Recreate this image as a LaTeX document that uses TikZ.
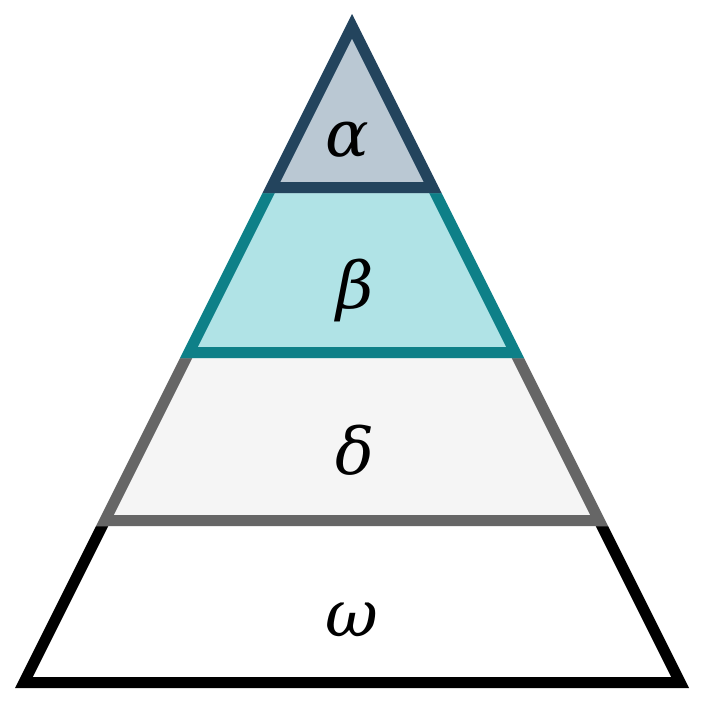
\documentclass[tikz,border=0pt]{standalone}
\usepackage{fontspec}
\newfontfamily\greekfont{DejaVu Serif}
\usepackage{xcolor}
\definecolor{cNavy}{RGB}{35,68,93}
\definecolor{cNavyFill}{RGB}{186,200,211}
\definecolor{cTeal}{RGB}{14,128,136}
\definecolor{cTealFill}{RGB}{176,227,230}
\definecolor{cGrayLine}{RGB}{102,102,102}
\definecolor{cGrayFill}{RGB}{245,245,245}
\tikzset{
  tierline/.style={line width=5.5mm,line join=miter},
  navytier/.style={tierline,draw=cNavy,fill=cNavyFill},
  tealtier/.style={tierline,draw=cTeal,fill=cTealFill},
  graytier/.style={tierline,draw=cGrayLine,fill=cGrayFill},
  blacktier/.style={tierline,draw=black,fill=white},
  greek/.style={font=\greekfont\itshape\fontsize{46}{54}\selectfont,inner sep=0pt}
}

\begin{document}
\begin{tikzpicture}[x=0.25mm,y=-0.25mm]
  \useasboundingbox (0,0) rectangle (703,703);

  % outline of the pyramid, cut into four tiers
  \coordinate (apex) at (352,14);
  \coordinate (l1) at (262.5,193); \coordinate (r1) at (441.5,193);
  \coordinate (l2) at (180,358);   \coordinate (r2) at (524,358);
  \coordinate (l3) at (96,526);    \coordinate (r3) at (608,526);
  \coordinate (l4) at (15,688);    \coordinate (r4) at (689,688);

  % each tier: stroke kept inside, no stroke on its top edge
  \begin{scope}
    \clip (l3) -- (r3) -- (r4) -- (l4) -- cycle;
    \filldraw[blacktier] (apex) -- (r4) -- (l4) -- cycle;
  \end{scope}
  \begin{scope}
    \clip (l2) -- (r2) -- (r3) -- (l3) -- cycle;
    \filldraw[graytier] (apex) -- (r3) -- (l3) -- cycle;
  \end{scope}
  \begin{scope}
    \clip (l1) -- (r1) -- (r2) -- (l2) -- cycle;
    \filldraw[tealtier] (apex) -- (r2) -- (l2) -- cycle;
  \end{scope}
  \begin{scope}
    \clip (apex) -- (r1) -- (l1) -- cycle;
    \filldraw[navytier] (apex) -- (r1) -- (l1) -- cycle;
  \end{scope}

  \node[greek] (alpha) at (347,140) {α};
  \node[greek] (beta)  at (355,290) {β};
  \node[greek] (delta) at (355,450) {δ};
  \node[greek] (omega) at (352,620) {ω};

\end{tikzpicture}
\end{document}
